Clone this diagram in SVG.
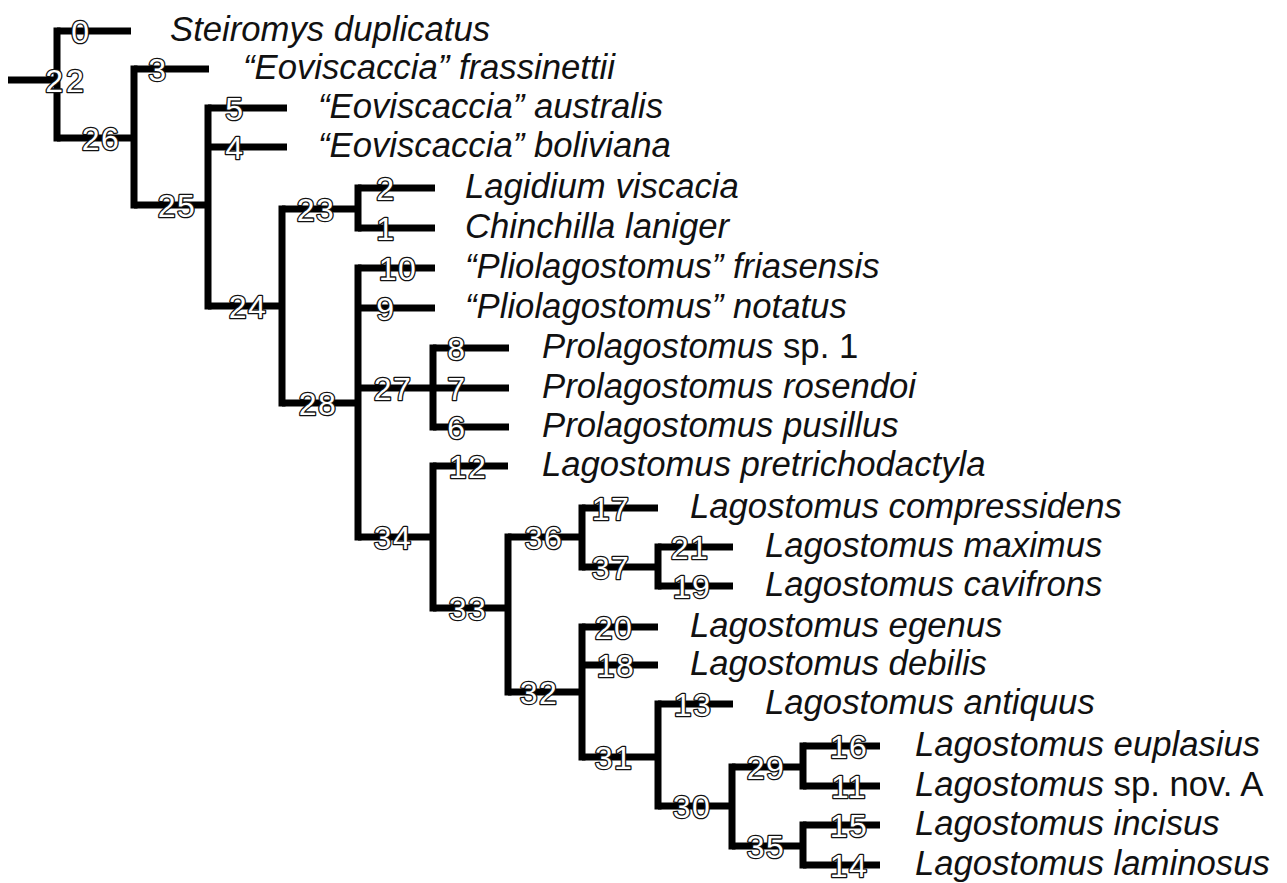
<svg xmlns="http://www.w3.org/2000/svg" width="1287" height="883" viewBox="0 0 1287 883">
<style>
.br{fill:none;stroke:#000;stroke-width:7}
.h{stroke-linecap:butt}
.v{stroke-linecap:square}
.n{font-family:"Liberation Sans",Arial,sans-serif;font-size:32px;fill:#fff;stroke:#111;stroke-width:2.6;paint-order:stroke;stroke-linejoin:round;text-anchor:middle;letter-spacing:1.5px}
.t{font-family:"Liberation Sans",Arial,sans-serif;font-size:34.7px;fill:#111;font-style:italic}
.u{font-style:normal}
</style>
<rect width="1287" height="883" fill="#fff"/>
<g id="connectors">
<path class="br h" d="M8 80H57 M57 31H131 M57 138H134 M134 69H209 M134 205H208 M208 108H287 M208 147H287 M208 306H282 M282 209H358 M358 188H435 M358 228H435 M282 403H358 M358 268H435 M358 308H435 M358 388H433 M433 348H509 M433 388H509 M433 427H509 M358 537H433 M433 466H508 M433 608H508 M508 537H582 M582 508H658 M582 567H658 M658 547H733 M658 586H733 M508 692H582 M582 627H658 M582 665H658 M582 757H658 M658 704H733 M658 806H732 M732 767H803 M803 746H880 M803 786H880 M732 846H803 M803 825H880 M803 865H880"/>
<path class="br v" d="M57 31V138 M134 69V205 M208 108V306 M282 209V403 M358 188V228 M358 268V537 M433 348V427 M433 466V608 M508 537V692 M582 508V567 M658 547V586 M582 627V757 M658 704V806 M732 767V846 M803 746V786 M803 825V865"/>
</g>
<g id="n22"><text class="n" x="66" y="92" style="letter-spacing:3px">22</text></g>
<g id="n26"><text class="n" x="101" y="150">26</text></g>
<g id="n25"><text class="n" x="177" y="217">25</text></g>
<g id="n24"><text class="n" x="248" y="318">24</text></g>
<g id="n23"><text class="n" x="316" y="221">23</text></g>
<g id="n28"><text class="n" x="318" y="415">28</text></g>
<g id="n27"><text class="n" x="393" y="400">27</text></g>
<g id="n34"><text class="n" x="393" y="549">34</text></g>
<g id="n33"><text class="n" x="468" y="620">33</text></g>
<g id="n36"><text class="n" x="544" y="549">36</text></g>
<g id="n37"><text class="n" x="611" y="579">37</text></g>
<g id="n32"><text class="n" x="539" y="704">32</text></g>
<g id="n31"><text class="n" x="614" y="769">31</text></g>
<g id="n30"><text class="n" x="692" y="818">30</text></g>
<g id="n29"><text class="n" x="766" y="779">29</text></g>
<g id="n35"><text class="n" x="766" y="858">35</text></g>
<g id="t0"><text class="n" x="81" y="43">0</text><text class="t" x="170" y="41">Steiromys duplicatus</text></g>
<g id="t3"><text class="n" x="158" y="81">3</text><text class="t" x="243" y="79">“Eoviscaccia” frassinettii</text></g>
<g id="t5"><text class="n" x="235" y="120">5</text><text class="t" x="318" y="118">“Eoviscaccia” australis</text></g>
<g id="t4"><text class="n" x="235" y="159">4</text><text class="t" x="318" y="157">“Eoviscaccia” boliviana</text></g>
<g id="t2"><text class="n" x="386" y="200">2</text><text class="t" x="465" y="198">Lagidium viscacia</text></g>
<g id="t1"><text class="n" x="386" y="240">1</text><text class="t" x="465" y="238">Chinchilla laniger</text></g>
<g id="t10"><text class="n" x="398" y="280">10</text><text class="t" x="465" y="278">“Pliolagostomus” friasensis</text></g>
<g id="t9"><text class="n" x="386" y="320">9</text><text class="t" x="465" y="318">“Pliolagostomus” notatus</text></g>
<g id="t8"><text class="n" x="457" y="360">8</text><text class="t" x="542" y="358">Prolagostomus <tspan class="u">sp. 1</tspan></text></g>
<g id="t7"><text class="n" x="457" y="400">7</text><text class="t" x="542" y="398">Prolagostomus rosendoi</text></g>
<g id="t6"><text class="n" x="457" y="439">6</text><text class="t" x="542" y="437">Prolagostomus pusillus</text></g>
<g id="t12"><text class="n" x="468" y="478">12</text><text class="t" x="542" y="476">Lagostomus pretrichodactyla</text></g>
<g id="t17"><text class="n" x="611" y="520">17</text><text class="t" x="690" y="518">Lagostomus compressidens</text></g>
<g id="t21"><text class="n" x="690" y="559">21</text><text class="t" x="765" y="557">Lagostomus maximus</text></g>
<g id="t19"><text class="n" x="692" y="598">19</text><text class="t" x="765" y="596">Lagostomus cavifrons</text></g>
<g id="t20"><text class="n" x="614" y="639">20</text><text class="t" x="690" y="637">Lagostomus egenus</text></g>
<g id="t18"><text class="n" x="616" y="677">18</text><text class="t" x="690" y="675">Lagostomus debilis</text></g>
<g id="t13"><text class="n" x="693" y="716">13</text><text class="t" x="765" y="714">Lagostomus antiquus</text></g>
<g id="t16"><text class="n" x="849" y="758">16</text><text class="t" x="915" y="756">Lagostomus euplasius</text></g>
<g id="t11"><text class="n" x="849" y="798">11</text><text class="t" x="915" y="796">Lagostomus <tspan class="u">sp. nov. A</tspan></text></g>
<g id="t15"><text class="n" x="849" y="837">15</text><text class="t" x="915" y="835">Lagostomus incisus</text></g>
<g id="t14"><text class="n" x="849" y="877">14</text><text class="t" x="915" y="875">Lagostomus laminosus</text></g>
</svg>
